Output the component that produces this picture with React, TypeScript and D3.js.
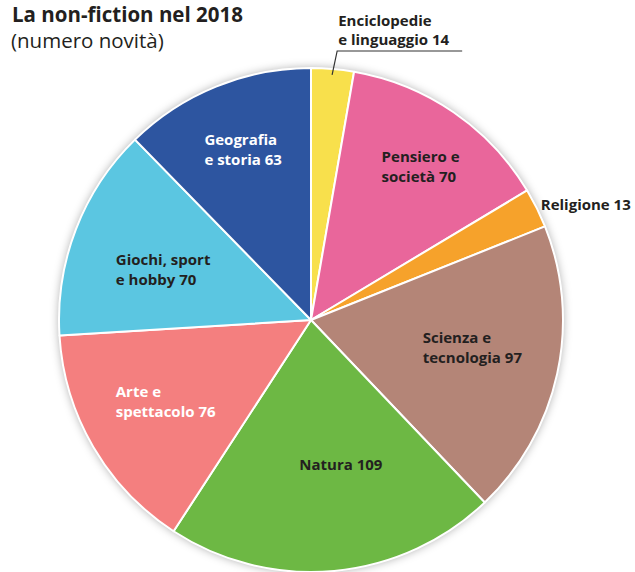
import React, { useEffect, useRef } from "react";
import * as d3 from "d3";

const categories = [
  "Enciclopedie e linguaggio",
  "Pensiero e società",
  "Religione",
  "Scienza e tecnologia",
  "Natura",
  "Arte e spettacolo",
  "Giochi, sport e hobby",
  "Geografia e storia",
];
const values = [14, 70, 13, 97, 109, 76, 70, 63];
const colors = ["#f8e04c", "#e9669b", "#f6a22b", "#b48577", "#6db844", "#f47f7f", "#5bc6e1", "#2d55a0"];
const labelLines = [
  ["Enciclopedie", "e linguaggio 14"],
  ["Pensiero e", "società 70"],
  ["Religione 13"],
  ["Scienza e", "tecnologia 97"],
  ["Natura 109"],
  ["Arte e", "spettacolo 76"],
  ["Giochi, sport", "e hobby 70"],
  ["Geografia", "e storia 63"],
];
const labelColors = ["#231f20", "#231f20", "#231f20", "#231f20", "#231f20", "#ffffff", "#231f20", "#ffffff"];
// where each label sits: inside at a fraction of the radius (0 = outside), and a small angle shift in degrees
const labelRadius = [0, 0.75, 0, 0.65, 0.585, 0.66, 0.62, 0.73];
const labelShift = [0, 1, 0, -2.8, -6.5, 1, -2, 0.5];

interface Slice {
  name: string;
  value: number;
  i: number;
}

const W = 635;
const H = 572;
const FONT = "'Open Sans', 'Noto Sans', sans-serif";
const LABEL_SIZE = 15;

export default function App() {
  const ref = useRef<SVGSVGElement | null>(null);

  useEffect(() => {
    const svg = d3.select(ref.current);
    svg.selectAll("*").remove();

    const cx = 311;
    const cy = 320;
    const r = 252;

    const defs = svg.append("defs");
    const f = defs
      .append("filter")
      .attr("id", "shadow")
      .attr("x", "-10%")
      .attr("y", "-10%")
      .attr("width", "120%")
      .attr("height", "120%");
    f.append("feDropShadow")
      .attr("dx", 0)
      .attr("dy", 0)
      .attr("stdDeviation", 5)
      .attr("flood-color", "#000")
      .attr("flood-opacity", 0.35);

    const data: Slice[] = categories.map((name, i) => ({ name, value: values[i], i }));
    const pie = d3.pie<Slice>().value((d) => d.value).sort(null);
    const arcs = pie(data);
    const arc = d3.arc<d3.PieArcDatum<Slice>>().innerRadius(0).outerRadius(r);

    const g = svg.append("g").attr("transform", `translate(${cx},${cy})`);

    g.append("circle").attr("r", r).attr("fill", "#fff").attr("filter", "url(#shadow)");

    g.selectAll("path.slice")
      .data(arcs)
      .join("path")
      .attr("class", "slice")
      .attr("d", arc)
      .attr("fill", (d) => colors[d.data.i])
      .attr("stroke", "#fff")
      .attr("stroke-width", 2)
      .attr("stroke-linejoin", "round");

    const mid = (d: d3.PieArcDatum<Slice>) => (d.startAngle + d.endAngle) / 2;

    // inside labels, centred near the slice mid-angle
    arcs.forEach((d) => {
      const i = d.data.i;
      if (!labelRadius[i]) return;
      const a = mid(d) + (labelShift[i] * Math.PI) / 180;
      const lr = r * labelRadius[i];
      const px = Math.sin(a) * lr;
      const py = -Math.cos(a) * lr;
      const t = g
        .append("text")
        .attr("font-family", FONT)
        .attr("font-weight", 700)
        .attr("font-size", LABEL_SIZE)
        .attr("fill", labelColors[i]);
      labelLines[i].forEach((line, k) => {
        t.append("tspan").attr("x", 0).attr("y", k * 20).text(line);
      });
      const bb = (t.node() as SVGTextElement).getBBox();
      t.attr("transform", `translate(${px - bb.x - bb.width / 2},${py - bb.y - bb.height / 2})`);
    });

    // Religione: outside, to the right
    const rel = arcs[2];
    const ra = mid(rel);
    g.append("text")
      .attr("font-family", FONT)
      .attr("font-weight", 700)
      .attr("font-size", LABEL_SIZE)
      .attr("fill", labelColors[2])
      .attr("x", Math.sin(ra) * (r + 10) - 5)
      .attr("y", -Math.cos(ra) * (r + 10) + 6)
      .text(labelLines[2][0]);

    // Enciclopedie: leader line to label above
    const enc = arcs[0];
    const ea = mid(enc);
    const p0 = [Math.sin(ea) * (r - 6), -Math.cos(ea) * (r - 6)];
    const p1 = [Math.sin(ea) * (r + 18) + 3, -Math.cos(ea) * (r + 18)];
    g.append("polyline")
      .attr("points", [p0, p1, [p1[0] + 125, p1[1]]].map((p) => p.join(",")).join(" "))
      .attr("fill", "none")
      .attr("stroke", "#333")
      .attr("stroke-width", 1.2);
    const et = g
      .append("text")
      .attr("font-family", FONT)
      .attr("font-weight", 700)
      .attr("font-size", LABEL_SIZE)
      .attr("fill", labelColors[0]);
    labelLines[0].forEach((line, k) => {
      et.append("tspan")
        .attr("x", p1[0] + 1)
        .attr("y", p1[1] - 25 + k * 19)
        .text(line);
    });

    // title
    svg
      .append("text")
      .attr("x", 12)
      .attr("y", 22)
      .attr("font-family", FONT)
      .attr("font-weight", 700)
      .attr("font-size", 20.5)
      .attr("fill", "#231f20")
      .text("La non-fiction nel 2018");
    svg
      .append("text")
      .attr("x", 11)
      .attr("y", 48)
      .attr("font-family", FONT)
      .attr("font-size", 20.5)
      .attr("fill", "#231f20")
      .text("(numero novità)");
  }, []);

  return (
    <svg
      ref={ref}
      width={W}
      height={H}
      style={{ position: "absolute", left: 0, top: 0, background: "#fff" }}
    />
  );
}
